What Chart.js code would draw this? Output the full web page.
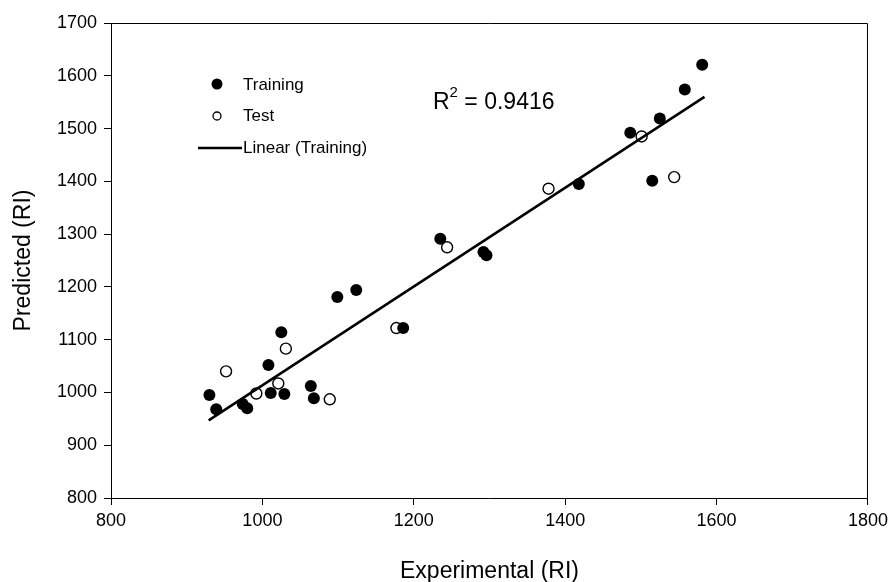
<!DOCTYPE html>
<html>
<head>
<meta charset="utf-8">
<script src="https://cdn.jsdelivr.net/npm/chart.js@4.4.1/dist/chart.umd.min.js"></script>
<style>
  html, body { margin: 0; padding: 0; background: #fff; }
  #wrap { width: 893px; height: 582px; }
</style>
</head>
<body>
<div id="wrap"><canvas id="rtChart" width="893" height="582"></canvas></div>
<script>
// Dados
const trainX = [930, 939, 974, 980, 1008, 1011, 1029, 1025, 1064, 1068, 1099, 1124, 1186, 1235, 1292, 1296, 1418, 1486, 1515, 1525, 1558, 1581];
const trainY = [995, 968, 978, 970, 1052, 999, 997, 1114, 1012, 989, 1181, 1194, 1122, 1291, 1266, 1260, 1395, 1492, 1401, 1519, 1574, 1621];
const testX = [952, 992, 1021, 1031, 1089, 1177, 1244, 1378, 1501, 1544];
const testY = [1040, 998, 1017, 1083, 987, 1122, 1275, 1386, 1485, 1408];
// reta de regressão (extremos)
const fitX = [929, 1584];
const fitY = [947, 1560];
const xTicks = [800, 1000, 1200, 1400, 1600, 1800];
const yTicks = [800, 900, 1000, 1100, 1200, 1300, 1400, 1500, 1600, 1700];
const r2Text = '0.9416';

const FONT = '"Liberation Sans", Arial, sans-serif';
const toPts = (xs, ys) => xs.map((x, i) => ({ x: x, y: ys[i] }));

// Moldura e legenda desenhadas à mão
const framePlugin = {
  id: 'frame',
  afterDraw(chart) {
    const ctx = chart.ctx;
    const a = chart.chartArea;
    ctx.save();
    ctx.strokeStyle = '#000';
    ctx.lineWidth = 1;
    ctx.beginPath();
    ctx.moveTo(a.left, a.top + 0.5);
    ctx.lineTo(a.right - 0.5, a.top + 0.5);
    ctx.lineTo(a.right - 0.5, a.bottom);
    ctx.stroke();

    // legenda
    ctx.font = '17px ' + FONT;
    ctx.fillStyle = '#000';
    ctx.textBaseline = 'middle';
    ctx.beginPath();
    ctx.arc(217, 84, 5.5, 0, Math.PI * 2);
    ctx.fill();
    ctx.fillText('Training', 243, 85);
    ctx.beginPath();
    ctx.arc(217, 116, 4, 0, Math.PI * 2);
    ctx.lineWidth = 1.3;
    ctx.stroke();
    ctx.fillText('Test', 243, 116);
    ctx.beginPath();
    ctx.lineWidth = 2.5;
    ctx.moveTo(198, 148);
    ctx.lineTo(242, 148);
    ctx.stroke();
    ctx.fillText('Linear (Training)', 243, 148);

    // R²
    ctx.font = '23px ' + FONT;
    ctx.fillText('R', 433, 103);
    const rw = ctx.measureText('R').width;
    ctx.font = '15px ' + FONT;
    ctx.fillText('2', 433 + rw, 93);
    const sw = ctx.measureText('2').width;
    ctx.font = '23px ' + FONT;
    ctx.fillText(' = ' + r2Text, 433 + rw + sw, 103);
    ctx.restore();
  }
};

const ctx = document.getElementById('rtChart').getContext('2d');
const rtChart = new Chart(ctx, {
  type: 'scatter',
  data: {
    datasets: [
      {
        label: 'Linear (Training)',
        type: 'line',
        data: toPts(fitX, fitY),
        borderColor: '#000',
        borderWidth: 2.5,
        pointRadius: 0,
        fill: false
      },
      {
        label: 'Training',
        data: toPts(trainX, trainY),
        backgroundColor: '#000',
        borderColor: '#000',
        borderWidth: 0,
        pointRadius: 6
      },
      {
        label: 'Test',
        data: toPts(testX, testY),
        backgroundColor: '#fff',
        borderColor: '#000',
        borderWidth: 1.4,
        pointRadius: 5.5
      }
    ]
  },
  options: {
    responsive: false,
    animation: false,
    layout: { padding: { left: 0, top: 23, right: 25, bottom: 0 } },
    plugins: {
      legend: { display: false },
      tooltip: { enabled: false }
    },
    scales: {
      x: {
        type: 'linear',
        min: 800,
        max: 1800,
        afterBuildTicks: (s) => { s.ticks = xTicks.map(v => ({ value: v })); },
        afterFit: (s) => { s.height = 84; },
        grid: { drawOnChartArea: false, drawTicks: true, tickLength: 7, color: '#000' },
        border: { color: '#000', width: 1 },
        ticks: { color: '#000', padding: 5, callback: (v) => String(v), font: { size: 18, family: FONT } },
        title: { display: true, text: 'Experimental (RI)', color: '#000', padding: { top: 6, bottom: -3 }, font: { size: 23, family: FONT } }
      },
      y: {
        type: 'linear',
        min: 800,
        max: 1700,
        afterBuildTicks: (s) => { s.ticks = yTicks.map(v => ({ value: v })); },
        afterFit: (s) => { s.width = 111; },
        grid: { drawOnChartArea: false, drawTicks: true, tickLength: 7, color: '#000' },
        border: { color: '#000', width: 1 },
        ticks: { color: '#000', padding: 7, callback: (v) => String(v), font: { size: 18, family: FONT } },
        title: { display: true, text: 'Predicted (RI)', color: '#000', padding: { top: 10, bottom: 0 }, font: { size: 23, family: FONT } }
      }
    }
  },
  plugins: [framePlugin]
});
</script>
</body>
</html>
